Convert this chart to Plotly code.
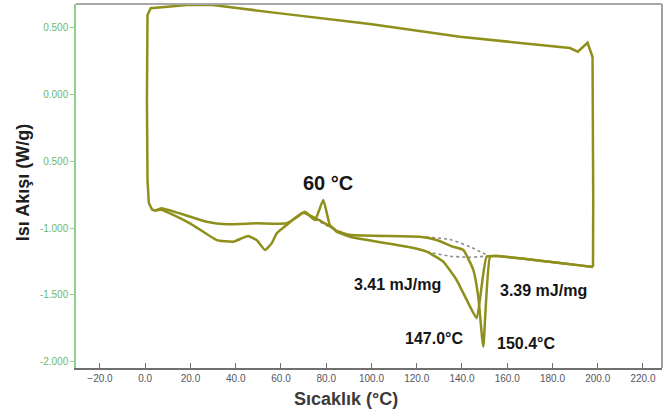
import plotly.graph_objects as go

# ---- data (temperature in °C, heat flow in W/g) ----
heat1_T = [4.3, 7.2, 27.1, 36.0, 49.2, 62.5, 68.4, 70.6, 75.0, 78.7, 81.6, 84.6, 90.8,
           121.4, 128.8, 136.1, 140.6, 145.0, 147.2, 149.4, 152.4, 155.3, 197.9]
heat1_H = [-0.871, -0.853, -0.953, -0.972, -0.965, -0.965, -0.903, -0.878, -0.940, -0.791,
           -0.978, -1.022, -1.052, -1.065, -1.090, -1.140, -1.164, -1.313, -1.513, -1.886,
           -1.214, -1.209, -1.291]

heat2_T = [4.3, 7.2, 19.8, 31.6, 38.9, 45.5, 49.2, 52.9, 55.9, 58.1, 62.5, 66.9, 69.8,
           75.0, 83.1, 84.6, 90.8, 117.0, 124.4, 131.7, 137.6, 142.1, 146.5, 150.9, 155.3, 197.9]
heat2_H = [-0.871, -0.863, -0.965, -1.090, -1.102, -1.060, -1.090, -1.164, -1.114, -1.040,
           -0.978, -0.916, -0.886, -0.925, -1.002, -1.028, -1.067, -1.144, -1.177, -1.251,
           -1.388, -1.537, -1.674, -1.214, -1.209, -1.291]

cool_T = [197.9, 198.0, 197.7, 195.5, 191.2, 187.7, 139.1, 99.3, 59.7, 29.9, 18.4, 2.4,
          1.0, 0.75, 1.0, 1.6, 3.0, 4.3]
cool_H = [-1.291, -0.791, 0.276, 0.383, 0.316, 0.343, 0.428, 0.522, 0.602, 0.664, 0.664,
          0.640, 0.590, -0.045, -0.642, -0.813, -0.862, -0.871]

base_60_T = [75.0, 84.6]
base_60_H = [-0.935, -1.020]
base_small_T = [45.5, 50.5]
base_small_H = [-1.060, -1.100]
base_a_T = [121.4, 134.6, 143.5, 151.6]
base_a_H = [-1.065, -1.086, -1.140, -1.207]
base_b_T = [124.4, 134.6, 143.5, 151.6]
base_b_H = [-1.177, -1.210, -1.218, -1.209]

x_ticks = [-20, 0, 20, 40, 60, 80, 100, 120, 140, 160, 180, 200, 220]
y_ticks = [-2.0, -1.5, -1.0, -0.5, 0.0, 0.5]
y_ticktext = ["-2.000", "-1.500", "-1.000", "0.500", "0.000", "0.500"]

labels = [
    ("60 °C", 80.7, -0.664, 20),
    ("3.41 mJ/mg", 111.7, -1.418, 16),
    ("3.39 mJ/mg", 176.2, -1.468, 16),
    ("147.0°C", 127.6, -1.823, 16),
    ("150.4°C", 168.5, -1.860, 16),
]

CURVE = "#8f8f1c"
DOT = "#8c8c8c"

fig = go.Figure()
for T, H in [(base_60_T, base_60_H), (base_small_T, base_small_H),
             (base_a_T, base_a_H), (base_b_T, base_b_H)]:
    fig.add_trace(go.Scatter(x=T, y=H, mode="lines",
                             line=dict(color=DOT, width=1.6, dash="dot", shape="spline",
                                       smoothing=0.6),
                             hoverinfo="skip", showlegend=False))
for T, H in [(heat2_T, heat2_H), (heat1_T, heat1_H)]:
    fig.add_trace(go.Scatter(x=T, y=H, mode="lines",
                             line=dict(color=CURVE, width=2.5, shape="spline", smoothing=0.4),
                             showlegend=False))
fig.add_trace(go.Scatter(x=cool_T, y=cool_H, mode="lines",
                         line=dict(color=CURVE, width=2.5), showlegend=False))

for text, x, y, size in labels:
    fig.add_annotation(x=x, y=y, text=f"<b>{text}</b>", showarrow=False,
                       font=dict(family="Liberation Sans, Arial", size=size, color="#151515"))

# axis titles
fig.add_annotation(xref="paper", yref="paper", x=-0.089, y=0.51, xanchor="center",
                   yanchor="middle",
                   text="<b>Isı Akışı (W/g)</b>", textangle=-90, showarrow=False,
                   font=dict(family="Liberation Sans, Arial", size=18, color="#202020"))
fig.add_annotation(xref="paper", yref="paper", x=0.46, y=-0.085, xanchor="center",
                   yanchor="middle",
                   text="<b>Sıcaklık (°C)</b>", showarrow=False,
                   font=dict(family="Liberation Sans, Arial", size=18, color="#3a3a3a"))

# top & right frame
fig.add_shape(type="line", xref="paper", yref="paper", x0=0, x1=1, y0=1, y1=1,
              line=dict(color="#a8a8a8", width=2))
fig.add_shape(type="line", xref="paper", yref="paper", x0=1, x1=1, y0=0, y1=1,
              line=dict(color="#a0a0a0", width=2))

fig.update_layout(
    width=670, height=412,
    margin=dict(l=76, r=8, t=4, b=44),
    paper_bgcolor="white", plot_bgcolor="white",
    xaxis=dict(range=[-30.6, 228.4], tickvals=x_ticks, tickformat=".1f",
               showgrid=False, zeroline=False, showline=True, linecolor="#707070",
               linewidth=2, ticks="inside", ticklen=5, tickcolor="#707070",
               tickfont=dict(family="Liberation Sans, Arial", size=10, color="#555560")),
    yaxis=dict(range=[-2.045, 0.672], tickvals=y_ticks, ticktext=y_ticktext,
               showgrid=False, zeroline=False, showline=True, linecolor="#8fcf8f",
               linewidth=1.5, ticks="outside", ticklen=4, tickcolor="#8fcf8f",
               tickfont=dict(family="Liberation Sans, Arial", size=10, color="#6db86d")),
)

fig.write_html("out.html", config={"displayModeBar": False},
               post_script="document.body.style.margin='0';document.body.style.padding='0';")
